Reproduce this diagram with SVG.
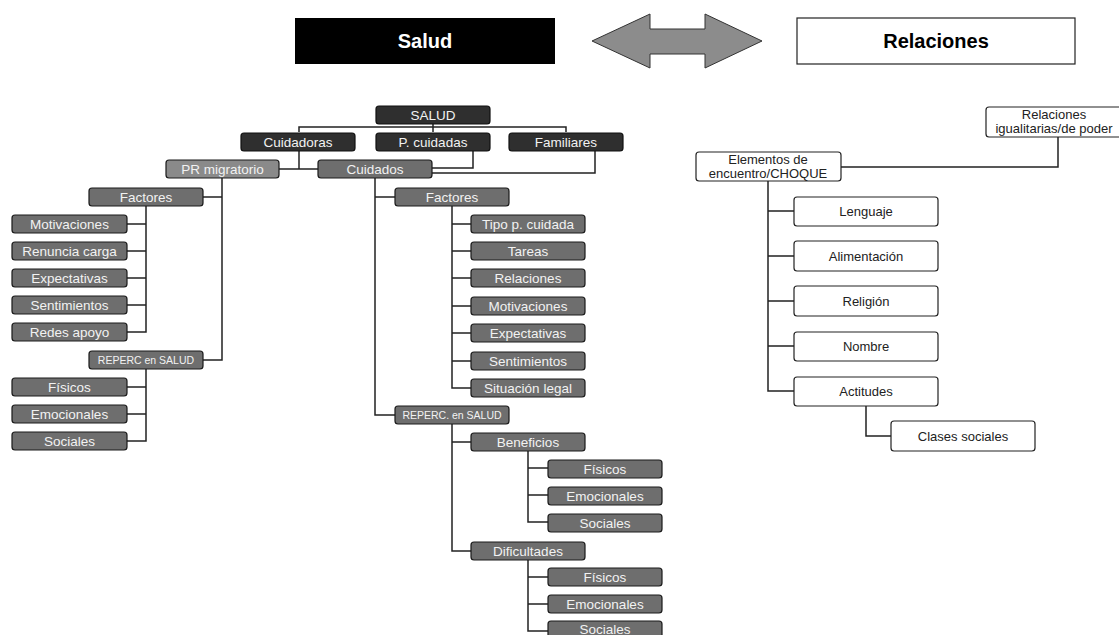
<svg xmlns="http://www.w3.org/2000/svg" width="1119" height="635" viewBox="0 0 1119 635">
<style>
text{font-family:"Liberation Sans",Arial,Helvetica,sans-serif;text-anchor:middle}
.dk rect{fill:#2f2f2f;stroke:#111;stroke-width:1.2}
.md rect{fill:#6e6e6e;stroke:#1a1a1a;stroke-width:1.2}
.lt rect{fill:#8a8a8a;stroke:#1a1a1a;stroke-width:1.2}
.wh rect{fill:#fff;stroke:#222;stroke-width:1.2}
.dk text,.md text,.lt text{fill:#f2f2f2;font-size:13.5px}
.wh text{fill:#222;font-size:13px}
.sm{font-size:10.5px !important}
#connectors path{fill:none;stroke:#222;stroke-width:1.5}
</style>
<rect width="1119" height="635" fill="#fff"/>
<g id="header">
<g id="h-salud"><rect x="295" y="18" width="260" height="46" fill="#000"/><text x="425" y="48" fill="#fff" font-size="20" font-weight="bold">Salud</text></g>
<polygon id="h-arrow" points="592,41 650,14 650,29 705,29 705,14 762,41 705,68 705,54 650,54 650,68" fill="#8c8c8c" stroke="#333" stroke-width="1"/>
<g id="h-relaciones"><rect x="797" y="18" width="278" height="46" fill="#fff" stroke="#222" stroke-width="1.2"/><text x="936" y="48" fill="#000" font-size="20" font-weight="bold">Relaciones</text></g>
</g>
<g id="connectors">
<path d="M433,124V127M299,132V127H566V132M433,127V132"/>
<path d="M299,151V169M279,169H318"/>
<path d="M473,151V168H432"/>
<path d="M595,151V173H432"/>
<path d="M222,178V360H203M222,197H203"/>
<path d="M146,206V332H127M146,224H127M146,251H127M146,278H127M146,305H127"/>
<path d="M146,369V441H127M146,387H127M146,414H127"/>
<path d="M375,178V415H395M375,197H395"/>
<path d="M452,206V388H471M452,224H471M452,251H471M452,278H471M452,306H471M452,333H471M452,361H471"/>
<path d="M452,424V551H471M452,442H471"/>
<path d="M528,450V522H548M528,468H548M528,495H548"/>
<path d="M528,559V631H548M528,577H548M528,604H548"/>
<path d="M1058,137V167H841"/>
<path d="M768,181V391H794M768,211H794M768,256H794M768,301H794M768,346H794"/>
<path d="M866,406V436H891"/>
</g>
<g id="n-salud" class="dk"><rect x="376" y="106" width="114" height="18" rx="3"/><text x="433" y="120">SALUD</text></g>
<g id="n-cuidadoras" class="dk"><rect x="241" y="133" width="114" height="18" rx="3"/><text x="298" y="147">Cuidadoras</text></g>
<g id="n-pcuidadas" class="dk"><rect x="376" y="133" width="114" height="18" rx="3"/><text x="433" y="147">P. cuidadas</text></g>
<g id="n-familiares" class="dk"><rect x="509" y="133" width="114" height="18" rx="3"/><text x="566" y="147">Familiares</text></g>
<g id="n-prmigratorio" class="lt"><rect x="166" y="160" width="113" height="18" rx="3"/><text x="222.5" y="174">PR migratorio</text></g>
<g id="n-cuidados" class="md"><rect x="318" y="160" width="114" height="18" rx="3"/><text x="375" y="174">Cuidados</text></g>
<g id="n-factores-l" class="md"><rect x="89" y="188" width="114" height="18" rx="3"/><text x="146" y="202">Factores</text></g>
<g id="n-motivaciones-l" class="md"><rect x="12" y="215" width="115" height="18" rx="3"/><text x="69.5" y="229">Motivaciones</text></g>
<g id="n-renuncia" class="md"><rect x="12" y="242" width="115" height="18" rx="3"/><text x="69.5" y="256">Renuncia carga</text></g>
<g id="n-expectativas-l" class="md"><rect x="12" y="269" width="115" height="18" rx="3"/><text x="69.5" y="283">Expectativas</text></g>
<g id="n-sentimientos-l" class="md"><rect x="12" y="296" width="115" height="18" rx="3"/><text x="69.5" y="310">Sentimientos</text></g>
<g id="n-redes" class="md"><rect x="12" y="323" width="115" height="18" rx="3"/><text x="69.5" y="337">Redes apoyo</text></g>
<g id="n-reperc-l" class="md"><rect x="89" y="351" width="114" height="18" rx="3"/><text class="sm" x="146" y="364">REPERC en SALUD</text></g>
<g id="n-fisicos-l" class="md"><rect x="12" y="378" width="115" height="18" rx="3"/><text x="69.5" y="392">Físicos</text></g>
<g id="n-emocionales-l" class="md"><rect x="12" y="405" width="115" height="18" rx="3"/><text x="69.5" y="419">Emocionales</text></g>
<g id="n-sociales-l" class="md"><rect x="12" y="432" width="115" height="18" rx="3"/><text x="69.5" y="446">Sociales</text></g>
<g id="n-factores-m" class="md"><rect x="395" y="188" width="114" height="18" rx="3"/><text x="452" y="202">Factores</text></g>
<g id="n-tipo" class="md"><rect x="471" y="215" width="114" height="18" rx="3"/><text x="528" y="229">Tipo p. cuidada</text></g>
<g id="n-tareas" class="md"><rect x="471" y="242" width="114" height="18" rx="3"/><text x="528" y="256">Tareas</text></g>
<g id="n-relaciones-m" class="md"><rect x="471" y="269" width="114" height="18" rx="3"/><text x="528" y="283">Relaciones</text></g>
<g id="n-motivaciones-m" class="md"><rect x="471" y="297" width="114" height="18" rx="3"/><text x="528" y="311">Motivaciones</text></g>
<g id="n-expectativas-m" class="md"><rect x="471" y="324" width="114" height="18" rx="3"/><text x="528" y="338">Expectativas</text></g>
<g id="n-sentimientos-m" class="md"><rect x="471" y="352" width="114" height="18" rx="3"/><text x="528" y="366">Sentimientos</text></g>
<g id="n-situacion" class="md"><rect x="471" y="379" width="114" height="18" rx="3"/><text x="528" y="393">Situación legal</text></g>
<g id="n-reperc-m" class="md"><rect x="395" y="406" width="114" height="18" rx="3"/><text class="sm" x="452" y="419">REPERC. en SALUD</text></g>
<g id="n-beneficios" class="md"><rect x="471" y="433" width="114" height="18" rx="3"/><text x="528" y="447">Beneficios</text></g>
<g id="n-fisicos-b" class="md"><rect x="548" y="460" width="114" height="18" rx="3"/><text x="605" y="474">Físicos</text></g>
<g id="n-emocionales-b" class="md"><rect x="548" y="487" width="114" height="18" rx="3"/><text x="605" y="501">Emocionales</text></g>
<g id="n-sociales-b" class="md"><rect x="548" y="514" width="114" height="18" rx="3"/><text x="605" y="528">Sociales</text></g>
<g id="n-dificultades" class="md"><rect x="471" y="542" width="114" height="18" rx="3"/><text x="528" y="556">Dificultades</text></g>
<g id="n-fisicos-d" class="md"><rect x="548" y="568" width="114" height="18" rx="3"/><text x="605" y="582">Físicos</text></g>
<g id="n-emocionales-d" class="md"><rect x="548" y="595" width="114" height="18" rx="3"/><text x="605" y="609">Emocionales</text></g>
<g id="n-sociales-d" class="md"><rect x="548" y="621" width="114" height="18" rx="3"/><text x="605" y="634">Sociales</text></g>
<g id="n-igualitarias" class="wh"><rect x="986" y="107" width="140" height="30" rx="3"/><text x="1054" y="119">Relaciones</text><text x="1054" y="133">igualitarias/de poder</text></g>
<g id="n-elementos" class="wh"><rect x="696" y="152" width="145" height="29" rx="3"/><text x="768" y="164">Elementos de</text><text x="768" y="178">encuentro/CHOQUE</text></g>
<g id="n-lenguaje" class="wh"><rect x="794" y="197" width="144" height="29" rx="3"/><text x="866" y="216">Lenguaje</text></g>
<g id="n-alimentacion" class="wh"><rect x="794" y="241" width="144" height="30" rx="3"/><text x="866" y="261">Alimentación</text></g>
<g id="n-religion" class="wh"><rect x="794" y="286" width="144" height="30" rx="3"/><text x="866" y="306">Religión</text></g>
<g id="n-nombre" class="wh"><rect x="794" y="332" width="144" height="29" rx="3"/><text x="866" y="351">Nombre</text></g>
<g id="n-actitudes" class="wh"><rect x="794" y="377" width="144" height="29" rx="3"/><text x="866" y="396">Actitudes</text></g>
<g id="n-clases" class="wh"><rect x="891" y="421" width="144" height="30" rx="3"/><text x="963" y="441">Clases sociales</text></g>
</svg>
